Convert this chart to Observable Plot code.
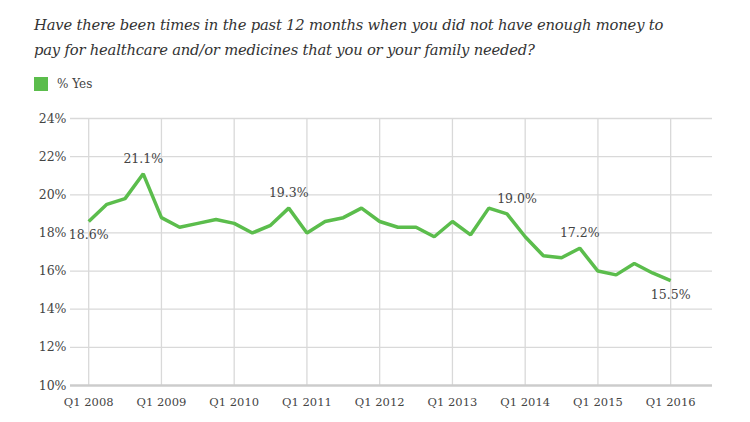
<!DOCTYPE html>
<html>
<head>
<meta charset="utf-8">
<script src="https://cdn.jsdelivr.net/npm/d3@7"></script>
<script src="https://cdn.jsdelivr.net/npm/@observablehq/plot@0.6"></script>
<style>
  html, body { margin: 0; padding: 0; background: #fff; width: 750px; height: 422px; overflow: hidden; }
  #wrap { position: relative; width: 750px; height: 422px; }
  #title { position: absolute; left: 34px; top: 12px; font-family: "DejaVu Serif", serif; font-style: italic; font-size: 14.75px; line-height: 25px; color: #333; letter-spacing: -0.2px; }
  #legend { position: absolute; left: 34px; top: 77px; font-family: "DejaVu Serif", serif; font-size: 12px; color: #444; display: flex; align-items: center; }
  #legend .sw { width: 14px; height: 14px; background: #5bbd4c; margin-right: 9px; }
  #chart { position: absolute; left: 0; top: 100px; }
</style>
</head>
<body>
<div id="wrap">
  <div id="title">Have there been times in the past 12 months when you did not have enough money to<br>pay for healthcare and/or medicines that you or your family needed?</div>
  <div id="legend"><div class="sw"></div><span>% Yes</span></div>
  <div id="chart"></div>
</div>
<script>
// Quarters Q1 2008 .. Q1 2016
const quarters = ["Q1 2008","Q2 2008","Q3 2008","Q4 2008","Q1 2009","Q2 2009","Q3 2009","Q4 2009",
  "Q1 2010","Q2 2010","Q3 2010","Q4 2010","Q1 2011","Q2 2011","Q3 2011","Q4 2011",
  "Q1 2012","Q2 2012","Q3 2012","Q4 2012","Q1 2013","Q2 2013","Q3 2013","Q4 2013",
  "Q1 2014","Q2 2014","Q3 2014","Q4 2014","Q1 2015","Q2 2015","Q3 2015","Q4 2015","Q1 2016"];
const yesPct = [18.6,19.5,19.8,21.1,18.8,18.3,18.5,18.7,
  18.5,18.0,18.4,19.3,18.0,18.6,18.8,19.3,
  18.6,18.3,18.3,17.8,18.6,17.9,19.3,19.0,
  17.8,16.8,16.7,17.2,16.0,15.8,16.4,15.9,15.5];
const xTickLabels = ["Q1 2008","Q1 2009","Q1 2010","Q1 2011","Q1 2012","Q1 2013","Q1 2014","Q1 2015","Q1 2016"];
const yTicks = [10,12,14,16,18,20,22,24];
const labeledQuarters = ["Q1 2008","Q4 2008","Q4 2010","Q4 2013","Q4 2014","Q1 2016"];
const labelsBelow = ["Q1 2008","Q1 2016"];
const labelsOffsetRight = ["Q4 2013"];

const data = quarters.map((q, i) => ({q, i, v: yesPct[i]}));
const xTickIdx = xTickLabels.map(l => quarters.indexOf(l));
const labelData = data.filter(d => labeledQuarters.includes(d.q));
const GREEN = "#5bbd4c";
const FONT = "DejaVu Serif, serif";
const fmt = d => d.v.toFixed(1) + "%";

const chart = Plot.plot({
  width: 750,
  height: 322,
  marginTop: 18,
  marginBottom: 37,
  marginLeft: 70,
  marginRight: 38,
  style: { fontFamily: FONT, fontSize: "12px", color: "#444", background: "transparent" },
  x: { type: "linear", domain: [-1, 34.3] },
  y: { domain: [10, 24] },
  marks: [
    Plot.gridY(yTicks.filter(t => t > 10), { stroke: "#d9d9d9", strokeOpacity: 1, strokeWidth: 1.3 }),
    Plot.ruleX(xTickIdx, { y1: 10, y2: 24, stroke: "#d9d9d9", strokeWidth: 1.3 }),
    Plot.ruleY([10], { stroke: "#cccccc", strokeWidth: 2.5 }),
    Plot.axisY({ ticks: yTicks, tickSize: 0, tickPadding: 4, tickFormat: d => d + "%", fontSize: 12.5, fill: "#444", label: null }),
    Plot.axisX({ ticks: xTickIdx, tickSize: 0, tickPadding: 12, tickFormat: i => quarters[i], fontSize: 11.5, fill: "#444", label: null }),
    Plot.line(data, { x: "i", y: "v", stroke: GREEN, strokeWidth: 3.5, strokeLinejoin: "miter", strokeLinecap: "butt" }),
    Plot.text(labelData.filter(d => !labelsBelow.includes(d.q) && !labelsOffsetRight.includes(d.q)), { x: "i", y: "v", text: fmt, dy: -15, fontSize: 12.5, fill: "#444" }),
    Plot.text(labelData.filter(d => labelsOffsetRight.includes(d.q)), { x: "i", y: "v", text: fmt, dy: -15, dx: 10, fontSize: 12.5, fill: "#444" }),
    Plot.text(labelData.filter(d => labelsBelow.includes(d.q)), { x: "i", y: "v", text: fmt, dy: 14, fontSize: 12.5, fill: "#444" })
  ]
});
document.getElementById("chart").appendChild(chart);
</script>
</body>
</html>
